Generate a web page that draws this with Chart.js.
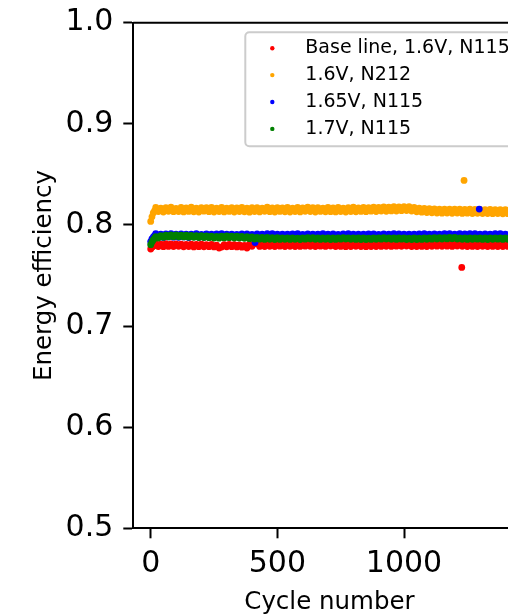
<!DOCTYPE html>
<html>
<head>
<meta charset="utf-8">
<script src="https://cdn.jsdelivr.net/npm/chart.js@4.4.1/dist/chart.umd.min.js"></script>
<style>
  html, body { margin: 0; padding: 0; background: #fff; overflow: hidden; }
  #wrap { width: 508px; height: 616px; overflow: hidden; }
  canvas { display: block; }
</style>
</head>
<body>
<div id="wrap"><canvas id="c" width="560" height="616"></canvas></div>
<script>
// Cycle numbers at which energy efficiency was sampled
const cycles = [
  0, 5, 10, 15,
  20, 30, 40, 50, 60, 70, 80, 90, 100, 110,
  120, 130, 140, 150, 160, 170, 180, 190, 200, 210,
  220, 230, 240, 250, 260, 270, 280, 290, 300, 310,
  320, 330, 340, 350, 360, 370, 380, 390, 400, 410,
  420, 430, 440, 450, 460, 470, 480, 490, 500, 510,
  520, 530, 540, 550, 560, 570, 580, 590, 600, 610,
  620, 630, 640, 650, 660, 670, 680, 690, 700, 710,
  720, 730, 740, 750, 760, 770, 780, 790, 800, 810,
  820, 830, 840, 850, 860, 870, 880, 890, 900, 910,
  920, 930, 940, 950, 960, 970, 980, 990, 1000, 1010,
  1020, 1030, 1040, 1050, 1060, 1070, 1080, 1090, 1100, 1110,
  1120, 1130, 1140, 1150, 1160, 1170, 1180, 1190, 1200, 1210,
  1220, 1230, 1240, 1250, 1260, 1270, 1280, 1290, 1300, 1310,
  1320, 1330, 1340, 1350, 1360, 1370, 1380, 1390, 1400, 1410,
  1420, 1430, 1440
];

// Base line, 1.6V, N115
const baseLine = [
  0.7762, 0.7780, 0.7789, 0.7796,
  0.7814, 0.7787, 0.7810, 0.7785, 0.7815, 0.7788, 0.7812, 0.7786, 0.7813, 0.7789,
  0.7810, 0.7784, 0.7808, 0.7786, 0.7811, 0.7783, 0.7807, 0.7785, 0.7809, 0.7784,
  0.7806, 0.7785, 0.7808, 0.7783, 0.7800, 0.7772, 0.7782, 0.7804, 0.7784, 0.7807,
  0.7785, 0.7805, 0.7783, 0.7803, 0.7780, 0.7797, 0.7771, 0.7810, 0.7789, 0.7814,
  0.7814, 0.7788, 0.7811, 0.7787, 0.7815, 0.7789, 0.7813, 0.7786, 0.7812, 0.7790,
  0.7812, 0.7787, 0.7814, 0.7789, 0.7811, 0.7786, 0.7815, 0.7788, 0.7813, 0.7790,
  0.7815, 0.7789, 0.7812, 0.7787, 0.7816, 0.7790, 0.7813, 0.7788, 0.7814, 0.7791,
  0.7811, 0.7786, 0.7813, 0.7788, 0.7812, 0.7785, 0.7814, 0.7787, 0.7811, 0.7789,
  0.7810, 0.7786, 0.7812, 0.7785, 0.7813, 0.7787, 0.7811, 0.7786, 0.7814, 0.7788,
  0.7813, 0.7789, 0.7815, 0.7788, 0.7814, 0.7790, 0.7816, 0.7789, 0.7813, 0.7791,
  0.7812, 0.7787, 0.7811, 0.7786, 0.7813, 0.7788, 0.7812, 0.7787, 0.7814, 0.7789,
  0.7814, 0.7790, 0.7815, 0.7789, 0.7816, 0.7790, 0.7814, 0.7788, 0.7815, 0.7791,
  0.7813, 0.7789, 0.7814, 0.7787, 0.7812, 0.7788, 0.7813, 0.7786, 0.7814, 0.7789,
  0.7812, 0.7787, 0.7813, 0.7788, 0.7811, 0.7787, 0.7812, 0.7786, 0.7813, 0.7788,
  0.7812, 0.7788, 0.7811
];

// 1.6V, N212
const n212 = [
  0.8035, 0.8080, 0.8118, 0.8140,
  0.8174, 0.8132, 0.8167, 0.8128, 0.8171, 0.8135, 0.8176, 0.8131, 0.8164, 0.8133,
  0.8173, 0.8129, 0.8168, 0.8134, 0.8175, 0.8130, 0.8166, 0.8127, 0.8172, 0.8136,
  0.8170, 0.8131, 0.8174, 0.8128, 0.8167, 0.8133, 0.8173, 0.8129, 0.8165, 0.8134,
  0.8171, 0.8127, 0.8168, 0.8132, 0.8174, 0.8130, 0.8166, 0.8126, 0.8170, 0.8133,
  0.8172, 0.8129, 0.8167, 0.8135, 0.8175, 0.8131, 0.8168, 0.8128, 0.8171, 0.8134,
  0.8169, 0.8130, 0.8174, 0.8127, 0.8166, 0.8133, 0.8173, 0.8129, 0.8168, 0.8135,
  0.8176, 0.8132, 0.8170, 0.8128, 0.8172, 0.8134, 0.8167, 0.8130, 0.8174, 0.8131,
  0.8168, 0.8129, 0.8173, 0.8133, 0.8166, 0.8127, 0.8171, 0.8132, 0.8175, 0.8130,
  0.8169, 0.8134, 0.8174, 0.8131, 0.8172, 0.8136, 0.8177, 0.8133, 0.8173, 0.8137,
  0.8178, 0.8135, 0.8176, 0.8139, 0.8180, 0.8138, 0.8179, 0.8141, 0.8182, 0.8143,
  0.8180, 0.8137, 0.8174, 0.8130, 0.8166, 0.8126, 0.8163, 0.8122, 0.8160, 0.8120,
  0.8159, 0.8117, 0.8157, 0.8116, 0.8156, 0.8118, 0.8157, 0.8115, 0.8155, 0.8117,
  0.8156, 0.8114, 0.8154, 0.8116, 0.8155, 0.8113, 0.8153, 0.8115, 0.8154, 0.8112,
  0.8152, 0.8113, 0.8153, 0.8111, 0.8151, 0.8112, 0.8150, 0.8110, 0.8151, 0.8111,
  0.8149, 0.8110, 0.8150
];

// 1.65V, N115
const v165 = [
  0.7835, 0.7862, 0.7880, 0.7895,
  0.7913, 0.7880, 0.7909, 0.7877, 0.7911, 0.7883, 0.7914, 0.7879, 0.7908, 0.7878,
  0.7912, 0.7881, 0.7908, 0.7876, 0.7910, 0.7882, 0.7913, 0.7878, 0.7907, 0.7879,
  0.7911, 0.7880, 0.7909, 0.7877, 0.7912, 0.7883, 0.7914, 0.7879, 0.7908, 0.7878,
  0.7910, 0.7881, 0.7907, 0.7876, 0.7911, 0.7882, 0.7912, 0.7877, 0.7906, 0.7879,
  0.7911, 0.7880, 0.7909, 0.7878, 0.7913, 0.7883, 0.7914, 0.7879, 0.7908, 0.7877,
  0.7910, 0.7881, 0.7908, 0.7876, 0.7911, 0.7882, 0.7913, 0.7878, 0.7907, 0.7880,
  0.7912, 0.7879, 0.7909, 0.7877, 0.7910, 0.7883, 0.7914, 0.7878, 0.7908, 0.7879,
  0.7911, 0.7880, 0.7907, 0.7876, 0.7912, 0.7882, 0.7913, 0.7877, 0.7909, 0.7878,
  0.7910, 0.7881, 0.7908, 0.7877, 0.7911, 0.7880, 0.7912, 0.7879, 0.7907, 0.7876,
  0.7911, 0.7882, 0.7909, 0.7878, 0.7913, 0.7881, 0.7912, 0.7877, 0.7908, 0.7879,
  0.7910, 0.7880, 0.7908, 0.7876, 0.7911, 0.7882, 0.7913, 0.7879, 0.7909, 0.7880,
  0.7912, 0.7881, 0.7910, 0.7878, 0.7913, 0.7883, 0.7915, 0.7880, 0.7910, 0.7881,
  0.7913, 0.7882, 0.7911, 0.7879, 0.7914, 0.7884, 0.7915, 0.7881, 0.7910, 0.7880,
  0.7912, 0.7881, 0.7910, 0.7879, 0.7913, 0.7882, 0.7914, 0.7880, 0.7909, 0.7881,
  0.7912, 0.7880, 0.7911
];

// 1.7V, N115
const v17 = [
  0.7805, 0.7832, 0.7852, 0.7868,
  0.7884, 0.7870, 0.7893, 0.7878, 0.7899, 0.7881, 0.7901, 0.7883, 0.7902, 0.7882,
  0.7900, 0.7881, 0.7899, 0.7879, 0.7897, 0.7878, 0.7895, 0.7876, 0.7894, 0.7875,
  0.7892, 0.7874, 0.7890, 0.7870, 0.7886, 0.7869, 0.7889, 0.7872, 0.7891, 0.7874,
  0.7889, 0.7871, 0.7888, 0.7870, 0.7886, 0.7868, 0.7884, 0.7864, 0.7881, 0.7861,
  0.7878, 0.7859, 0.7877, 0.7857, 0.7876, 0.7858, 0.7875, 0.7856, 0.7874, 0.7857,
  0.7872, 0.7858, 0.7873, 0.7857, 0.7871, 0.7858, 0.7870, 0.7856, 0.7872, 0.7859,
  0.7875, 0.7860, 0.7874, 0.7858, 0.7872, 0.7857, 0.7873, 0.7858, 0.7871, 0.7856,
  0.7872, 0.7857, 0.7873, 0.7859, 0.7874, 0.7860, 0.7873, 0.7858, 0.7872, 0.7857,
  0.7871, 0.7856, 0.7872, 0.7855, 0.7870, 0.7857, 0.7871, 0.7858, 0.7873, 0.7859,
  0.7874, 0.7860, 0.7873, 0.7858, 0.7872, 0.7857, 0.7873, 0.7859, 0.7872, 0.7856,
  0.7870, 0.7855, 0.7871, 0.7856, 0.7870, 0.7857, 0.7872, 0.7858, 0.7873, 0.7859,
  0.7874, 0.7860, 0.7875, 0.7861, 0.7874, 0.7862, 0.7876, 0.7863, 0.7877, 0.7861,
  0.7873, 0.7858, 0.7872, 0.7857, 0.7871, 0.7858, 0.7873, 0.7859, 0.7872, 0.7857,
  0.7871, 0.7856, 0.7872, 0.7858, 0.7873, 0.7859, 0.7872, 0.7857, 0.7871, 0.7858,
  0.7872, 0.7858, 0.7871
];

// Isolated readings away from the main trend
const baseLineExtraCycles = [1228];
const baseLineExtraValues = [0.758];
const n212ExtraCycles = [1237];
const n212ExtraValues = [0.844];
const v165ExtraCycles = [412, 1297];
const v165ExtraValues = [0.7826, 0.8157];

const xTicks = [0, 500, 1000];
const yTicks = [0.5, 0.6, 0.7, 0.8, 0.9, 1.0];

function toPoints(xs, ys, extraX, extraY) {
  const pts = xs.map((x, i) => ({ x: x, y: ys[i] }));
  (extraX || []).forEach((x, i) => pts.push({ x: x, y: extraY[i] }));
  return pts;
}

const FONT = "'DejaVu Sans', 'Liberation Sans', sans-serif";

// Full rectangular frame around the plot area
const framePlugin = {
  id: 'frame',
  afterDatasetsDraw(chart) {
    const { ctx, chartArea: a } = chart;
    ctx.save();
    ctx.strokeStyle = '#000';
    ctx.lineWidth = 2;
    ctx.beginPath();
    ctx.moveTo(a.left, a.top);
    ctx.lineTo(a.right, a.top);
    ctx.lineTo(a.right, a.bottom);
    ctx.stroke();
    ctx.restore();
  }
};

// Boxed legend in the upper part of the plot
const legendPlugin = {
  id: 'boxLegend',
  afterDraw(chart) {
    const { ctx, chartArea: a } = chart;
    const x0 = a.left + 112, y0 = a.top + 9.5;
    const w = 290, h = 114, r = 4;
    ctx.save();
    ctx.beginPath();
    ctx.roundRect(x0, y0, w, h, r);
    ctx.fillStyle = 'rgba(255,255,255,0.8)';
    ctx.fill();
    ctx.strokeStyle = '#cccccc';
    ctx.lineWidth = 2;
    ctx.stroke();
    ctx.font = '19px ' + FONT;
    ctx.textBaseline = 'middle';
    ctx.textAlign = 'left';
    chart.data.datasets.forEach((ds, i) => {
      const cy = y0 + 16 + i * 26.9;
      ctx.beginPath();
      ctx.arc(x0 + 27, cy, 2.2, 0, Math.PI * 2);
      ctx.fillStyle = ds.backgroundColor;
      ctx.fill();
      ctx.fillStyle = '#000';
      ctx.fillText(ds.label, x0 + 60, cy);
    });
    ctx.restore();
  }
};

const pointOpts = { pointRadius: 3.4, pointBorderWidth: 0, showLine: false };

function noEdgePadding(scale) {
  scale.paddingTop = 0;
  scale.paddingBottom = 0;
  scale.paddingLeft = 0;
  scale.paddingRight = 0;
}

new Chart(document.getElementById('c'), {
  type: 'scatter',
  data: {
    datasets: [
      Object.assign({ label: 'Base line, 1.6V, N115', data: toPoints(cycles, baseLine, baseLineExtraCycles, baseLineExtraValues),
        backgroundColor: '#ff0000', borderColor: '#ff0000', order: 4 }, pointOpts),
      Object.assign({ label: '1.6V, N212', data: toPoints(cycles, n212, n212ExtraCycles, n212ExtraValues),
        backgroundColor: '#ffa500', borderColor: '#ffa500', order: 3 }, pointOpts),
      Object.assign({ label: '1.65V, N115', data: toPoints(cycles, v165, v165ExtraCycles, v165ExtraValues),
        backgroundColor: '#0000ff', borderColor: '#0000ff', order: 2 }, pointOpts),
      Object.assign({ label: '1.7V, N115', data: toPoints(cycles, v17),
        backgroundColor: '#008000', borderColor: '#008000', order: 1 }, pointOpts)
    ]
  },
  options: {
    responsive: false,
    devicePixelRatio: 1,
    animation: false,
    events: [],
    layout: { padding: { top: 22.7, right: 34.4, left: 0, bottom: 0 } },
    plugins: { legend: { display: false }, tooltip: { enabled: false } },
    scales: {
      x: {
        type: 'linear',
        min: -68.7,
        max: 1480,
        afterBuildTicks(scale) { scale.ticks = xTicks.map(v => ({ value: v })); },
        afterFit(scale) { scale.height = 87.7; noEdgePadding(scale); },
        ticks: {
          color: '#000',
          padding: 8,
          maxRotation: 0,
          autoSkip: false,
          font: { family: FONT, size: 30 },
          callback: v => String(v)
        },
        grid: { display: true, drawOnChartArea: false, drawTicks: true, tickLength: 10, tickWidth: 2, tickColor: '#000' },
        border: { display: true, color: '#000', width: 2 },
        title: { display: true, text: 'Cycle number', color: '#000',
          font: { family: FONT, size: 24.5, lineHeight: 1.1 }, padding: { top: 0, bottom: 0 } }
      },
      y: {
        type: 'linear',
        min: 0.5,
        max: 1.0,
        afterBuildTicks(scale) { scale.ticks = yTicks.map(v => ({ value: v })); },
        afterFit(scale) { scale.width = 133.3; noEdgePadding(scale); },
        ticks: {
          color: '#000',
          padding: 10,
          autoSkip: false,
          font: { family: FONT, size: 30 },
          callback: v => Number(v).toFixed(1)
        },
        grid: { display: true, drawOnChartArea: false, drawTicks: true, tickLength: 10, tickWidth: 2, tickColor: '#000' },
        border: { display: true, color: '#000', width: 2 },
        title: { display: true, text: 'Energy efficiency', color: '#000',
          font: { family: FONT, size: 24.5, lineHeight: 1.1 }, padding: { top: 31.3, bottom: 0 } }
      }
    }
  },
  plugins: [framePlugin, legendPlugin]
});
</script>
</body>
</html>
